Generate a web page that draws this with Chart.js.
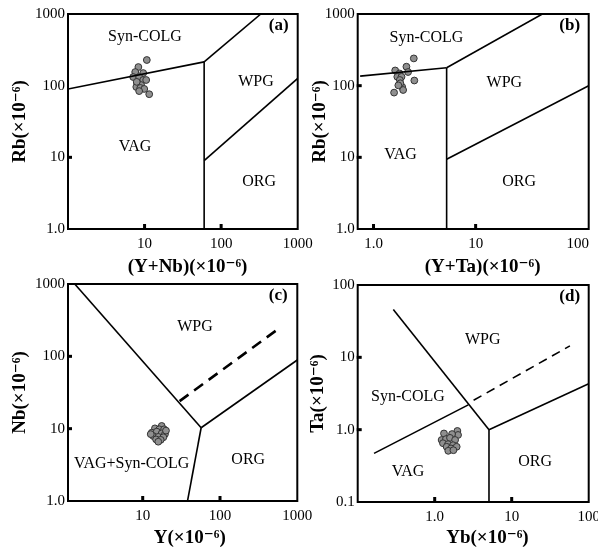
<!DOCTYPE html>
<html>
<head>
<meta charset="utf-8">
<script src="https://cdn.jsdelivr.net/npm/chart.js@4.4.1/dist/chart.umd.min.js"></script>
<style>
  body { margin: 0; background: #fff; }
  #wrap { position: relative; width: 598px; height: 548px; }
  #wrap canvas { position: absolute; left: 0; top: 0; }
</style>
</head>
<body>
<div id="wrap">
  <canvas id="ca" width="598" height="548"></canvas>
  <canvas id="cb" width="598" height="548"></canvas>
  <canvas id="cc" width="598" height="548"></canvas>
  <canvas id="cd" width="598" height="548"></canvas>
</div>
<script>
// ---- (a) Rb vs (Y+Nb) ----
const aSampleX = [10.7, 8.3, 7.55, 9.6, 7.1, 8.5, 9.6, 10.5, 8.0, 9.0, 7.8, 8.8, 9.9, 8.5, 11.5, 7.9];
const aSampleY = [228, 182, 155, 150, 132, 132, 120, 120, 109, 102, 96, 93, 90, 84, 76, 113];
const aBound1 = [[1, 90], [60, 215]];
const aBound2 = [[60, 1], [60, 215]];
const aBound3 = [[60, 215], [330, 1000]];
const aBound4 = [[60, 9], [1000, 126]];
const aXTicks = [10, 100, 1000];
const aYTicks = [1, 10, 100, 1000];
const aRegions = ['Syn-COLG', 'WPG', 'VAG', 'ORG'];
const aRegionAt = [[10.1, 476], [285, 113], [7.5, 14], [314, 4.6]];

// ---- (b) Rb vs (Y+Ta) ----
const bSampleX = [2.48, 2.10, 1.63, 2.18, 1.80, 1.71, 1.88, 1.81, 2.51, 1.91, 1.95, 1.59, 1.83, 1.75];
const bSampleY = [240, 184, 163, 155, 148, 133, 133, 120, 118, 96, 87, 80, 108, 101];
const bBound1 = [[0.74, 136], [5.2, 178]];
const bBound2 = [[5.2, 1], [5.2, 178]];
const bBound3 = [[5.2, 178], [45, 1000]];
const bBound4 = [[5.2, 9.4], [128, 100]];
const bXTicks = [1, 10, 100];
const bYTicks = [1, 10, 100, 1000];
const bRegions = ['Syn-COLG', 'WPG', 'VAG', 'ORG'];
const bRegionAt = [[3.3, 472], [19.1, 110], [1.84, 10.8], [26.7, 4.6]];

// ---- (c) Nb vs Y ----
const cSampleX = [17.6, 14.4, 16.4, 18.9, 13.1, 15.2, 17.6, 19.4, 13.7, 15.9, 18.5, 14.9, 17.1, 15.9, 12.7, 20.0];
const cSampleY = [10.9, 10.1, 9.8, 9.8, 8.8, 9.1, 8.6, 8.4, 7.9, 7.7, 7.6, 7.1, 7.0, 6.6, 8.4, 9.4];
const cBound1 = [[1.32, 1000], [57, 10.3]];
const cBound2 = [[57, 10.3], [38, 1]];
const cBound3 = [[57, 10.3], [1000, 89]];
const cDashed = [[30, 24], [530, 227]];
const cXTicks = [10, 100, 1000];
const cYTicks = [1, 10, 100, 1000];
const cRegions = ['WPG', 'VAG+Syn-COLG', 'ORG'];
const cRegionAt = [[47.5, 253], [7.2, 3.3], [232, 3.7]];

// ---- (d) Ta vs Yb ----
const dSampleX = [1.32, 1.97, 2.01, 1.68, 1.23, 1.40, 1.58, 1.84, 1.28, 1.49, 1.73, 1.43, 1.63, 1.93, 1.50, 1.75];
const dSampleY = [0.886, 0.96, 0.845, 0.87, 0.72, 0.74, 0.77, 0.72, 0.65, 0.63, 0.61, 0.58, 0.55, 0.58, 0.51, 0.52];
const dBound1 = [[0.29, 46], [5.07, 1.0]];
const dBound2 = [[5.07, 1.0], [5.07, 0.1]];
const dBound3 = [[5.07, 1.0], [100, 4.3]];
const dBound4 = [[0.163, 0.47], [2.73, 2.2]];
const dDashed = [[3.2, 2.55], [57, 14.4]];
const dXTicks = [1, 10, 100];
const dYTicks = [0.1, 1, 10, 100];
const dRegions = ['WPG', 'Syn-COLG', 'VAG', 'ORG'];
const dRegionAt = [[4.2, 17.4], [0.45, 2.86], [0.45, 0.26], [20.1, 0.36]];

const serif = "'Liberation Serif', 'DejaVu Serif', 'Times New Roman', serif";
Chart.defaults.font.family = serif;
Chart.defaults.color = '#000';

// frame, inner tick marks and field names
const decor = {
  id: 'decor',
  afterDatasetsDraw(chart, args, o) {
    const { ctx, chartArea: a, scales } = chart;
    ctx.save();
    ctx.fillStyle = '#000';
    o.xMarks.forEach(v => {
      const px = scales.x.getPixelForValue(v);
      ctx.fillRect(px - 1.5, a.bottom - 5, 3, 5);
    });
    o.yMarks.forEach(v => {
      const py = scales.y.getPixelForValue(v);
      ctx.fillRect(a.left - 1, py - 1.5, 5, 3);
    });
    ctx.lineWidth = 2;
    ctx.strokeStyle = '#000';
    ctx.strokeRect(a.left, a.top, a.width, a.height);
    ctx.textAlign = 'center';
    ctx.textBaseline = 'middle';
    ctx.font = '16px ' + serif;
    o.regions.forEach((t, i) => {
      ctx.fillText(t, scales.x.getPixelForValue(o.regionAt[i][0]), scales.y.getPixelForValue(o.regionAt[i][1]));
    });
    ctx.font = 'bold 17px ' + serif;
    ctx.fillText(o.tag, a.right - 19, a.top + 12);
    ctx.restore();
  }
};

function logAxis(min, max, ticks, title, size, isX) {
  return {
    type: 'logarithmic',
    min: min,
    max: max,
    grid: { display: false, drawTicks: false },
    border: { display: false },
    afterBuildTicks: s => { s.ticks = ticks.map(v => ({ value: v })); },
    afterFit: s => {
      if (isX) { s.height = size; s.paddingLeft = 0; s.paddingRight = 0; }
      else { s.width = size; s.paddingTop = 0; s.paddingBottom = 0; }
    },
    ticks: {
      autoSkip: false,
      maxRotation: 0,
      padding: isX ? 6 : 3,
      font: { size: 15 },
      callback: v => v < 10 ? v.toFixed(1) : String(v)
    },
    title: { display: true, text: title, padding: 0, font: { size: 19, weight: 'bold', lineHeight: 1 } }
  };
}

function toPts(pairs) {
  return pairs.map(p => ({ x: p[0], y: p[1] }));
}

function panel(id, p) {
  const sets = p.bounds.map(b => ({
    data: toPts(b),
    showLine: true,
    pointRadius: 0,
    borderColor: '#000',
    borderWidth: 1.6
  }));
  if (p.dashed) {
    sets.push({
      data: toPts(p.dashed),
      showLine: true,
      pointRadius: 0,
      borderColor: '#000',
      borderWidth: p.dashW,
      borderDash: p.dash
    });
  }
  sets.push({
    data: p.sx.map((v, i) => ({ x: v, y: p.sy[i] })),
    pointRadius: 3.4,
    pointBackgroundColor: '#8f8f8f',
    pointBorderColor: '#333',
    pointBorderWidth: 1
  });
  new Chart(document.getElementById(id), {
    type: 'scatter',
    data: { datasets: sets },
    plugins: [decor],
    options: {
      responsive: false,
      animation: false,
      events: [],
      layout: { padding: p.pad },
      scales: {
        x: logAxis(p.xr[0], p.xr[1], p.xTicks, p.xTitle, p.xH, true),
        y: logAxis(p.yr[0], p.yr[1], p.yTicks, p.yTitle, p.yW, false)
      },
      plugins: {
        legend: { display: false },
        tooltip: { enabled: false },
        decor: { xMarks: p.xMarks, yMarks: p.yMarks, regions: p.regions, regionAt: p.regionAt, tag: p.tag }
      }
    }
  });
}

panel('ca', {
  sx: aSampleX, sy: aSampleY, bounds: [aBound1, aBound2, aBound3, aBound4],
  xr: [1, 1000], yr: [1, 1000], xTicks: aXTicks, yTicks: aYTicks,
  xMarks: [10, 100], yMarks: [10],
  xTitle: '\u00a0\u00a0(Y+Nb)(×10⁻⁶)', yTitle: 'Rb(×10⁻⁶)',
  regions: aRegions, regionAt: aRegionAt, tag: '(a)',
  pad: { left: 10.5, top: 14, right: 300.3, bottom: 271.2 }, yW: 57.5, xH: 47.8
});

panel('cb', {
  sx: bSampleX, sy: bSampleY, bounds: [bBound1, bBound2, bBound3, bBound4],
  xr: [0.74, 128], yr: [1, 1000], xTicks: bXTicks, yTicks: bYTicks,
  xMarks: [1, 10], yMarks: [10, 100],
  xTitle: '\u00a0\u00a0\u00a0\u00a0(Y+Ta)(×10⁻⁶)', yTitle: 'Rb(×10⁻⁶)',
  regions: bRegions, regionAt: bRegionAt, tag: '(b)',
  pad: { left: 310.5, top: 14, right: 9.3, bottom: 271.2 }, yW: 47.2, xH: 47.8
});

panel('cc', {
  sx: cSampleX, sy: cSampleY, bounds: [cBound1, cBound2, cBound3],
  dashed: cDashed, dash: [11, 7], dashW: 2.6,
  xr: [1.08, 1000], yr: [1, 1000], xTicks: cXTicks, yTicks: cYTicks,
  xMarks: [10, 100], yMarks: [10, 100],
  xTitle: '\u00a0\u00a0\u00a0Y(×10⁻⁶)', yTitle: 'Nb(×10⁻⁶)',
  regions: cRegions, regionAt: cRegionAt, tag: '(c)',
  pad: { left: 11, top: 284, right: 300.7, bottom: 0.8 }, yW: 57, xH: 46.2
});

panel('cd', {
  sx: dSampleX, sy: dSampleY, bounds: [dBound1, dBound2, dBound3, dBound4],
  dashed: dDashed, dash: [9, 6], dashW: 1.6,
  xr: [0.1, 100], yr: [0.1, 100], xTicks: dXTicks, yTicks: dYTicks,
  xMarks: [1, 10], yMarks: [1, 10],
  xTitle: '\u00a0\u00a0\u00a0\u00a0\u00a0\u00a0Yb(×10⁻⁶)', yTitle: 'Ta(×10⁻⁶)',
  regions: dRegions, regionAt: dRegionAt, tag: '(d)',
  pad: { left: 309, top: 285, right: 9.3, bottom: 0.8 }, yW: 48.7, xH: 45.2
});
</script>
</body>
</html>
